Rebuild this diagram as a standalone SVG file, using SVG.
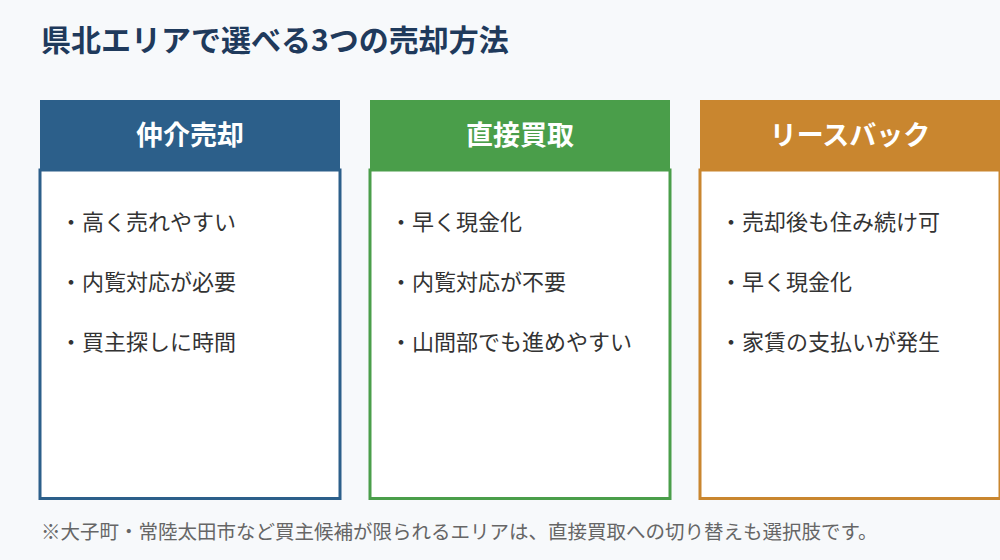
<svg xmlns="http://www.w3.org/2000/svg" width="1000" height="560" viewBox="0 0 1000 560">
<style>
.title{font-family:"Noto Sans CJK JP","Noto Sans",sans-serif;font-size:30px;font-weight:700;fill:#1f3a5c}
.head{font-family:"Noto Sans CJK JP","Noto Sans",sans-serif;font-size:27px;font-weight:700;fill:#ffffff;text-anchor:middle}
.item{font-family:"Noto Sans CJK JP","Noto Sans",sans-serif;font-size:22px;fill:#333333}
.note{font-family:"Noto Sans CJK JP","Noto Sans",sans-serif;font-size:19.5px;fill:#666666}
.body{fill:#ffffff;stroke-width:3}
</style>
<rect x="0" y="0" width="1000" height="560" fill="#f7f9fb"/>
<text class="title" x="41" y="51">県北エリアで選べる3つの売却方法</text>
<g id="node-chukai">
<rect class="body" x="40" y="170" width="300" height="328.5" stroke="#2c5f8a"/>
<rect x="40" y="100" width="300" height="69" fill="#2c5f8a"/>
<text class="head" x="190" y="145">仲介売却</text>
<text class="item" x="60" y="230">・高く売れやすい</text>
<text class="item" x="60" y="290">・内覧対応が必要</text>
<text class="item" x="60" y="350">・買主探しに時間</text>
</g>
<g id="node-chokusetsu">
<rect class="body" x="370" y="170" width="300" height="328.5" stroke="#4a9e4a"/>
<rect x="370" y="100" width="300" height="69" fill="#4a9e4a"/>
<text class="head" x="520" y="145">直接買取</text>
<text class="item" x="390" y="230">・早く現金化</text>
<text class="item" x="390" y="290">・内覧対応が不要</text>
<text class="item" x="390" y="350">・山間部でも進めやすい</text>
</g>
<g id="node-leaseback">
<rect class="body" x="700" y="170" width="300" height="328.5" stroke="#c9862f"/>
<rect x="700" y="100" width="300" height="69" fill="#c9862f"/>
<text class="head" x="850" y="145">リースバック</text>
<text class="item" x="720" y="230">・売却後も住み続け可</text>
<text class="item" x="720" y="290">・早く現金化</text>
<text class="item" x="720" y="350">・家賃の支払いが発生</text>
</g>
<g id="connectors"></g>
<text class="note" x="41" y="539">※大子町・常陸太田市など買主候補が限られるエリアは、直接買取への切り替えも選択肢です。</text>
</svg>
